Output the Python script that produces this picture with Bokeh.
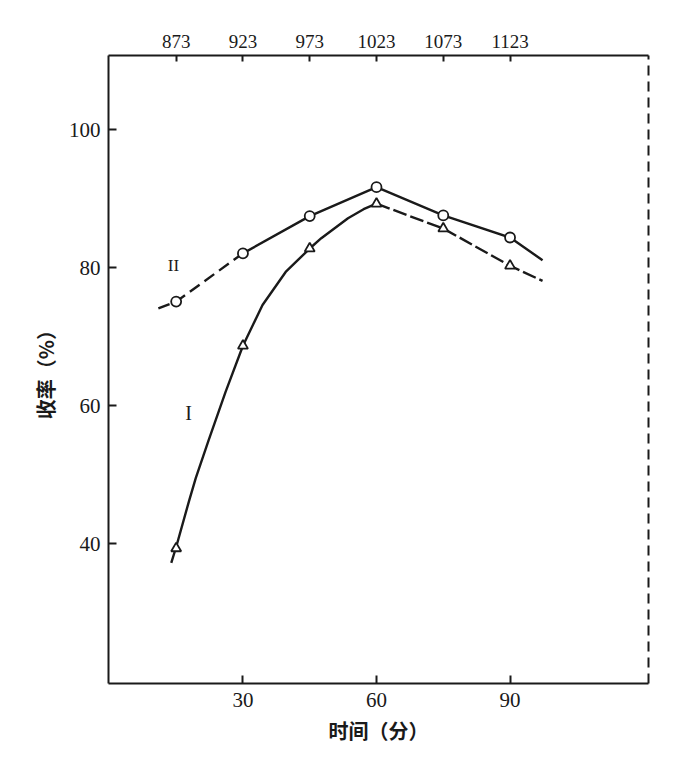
from bokeh.plotting import figure
from bokeh.models import Range1d, LinearAxis, FixedTicker
from bokeh.core.properties import value
from bokeh.embed import file_html
from bokeh.resources import INLINE

# ---- data ----
time_min = [15, 30, 45, 60, 75, 90]                          # 时间 (分)
temp_labels = ["873", "923", "973", "1023", "1073", "1123"]  # top scale
yield_I = [39.3, 68.7, 82.8, 89.3, 85.7, 80.3]               # curve I (triangles)
yield_II = [75.1, 82.1, 87.5, 91.7, 87.6, 84.4]              # curve II (circles)

# traced points along the drawn curves
curve_I_t = [13.9, 15, 17.9, 19.4, 22.3, 26.1, 30, 34.4, 39.6, 45, 47.6, 53.6, 57.1, 60]
curve_I_v = [37.2, 39.5, 46.2, 49.5, 55.0, 62.0, 68.7, 74.6, 79.4, 82.8, 84.3, 87.2, 88.5, 89.3]
curve_I_tail_t = [60, 75, 90, 97.3]
curve_I_tail_v = [89.3, 85.7, 80.3, 78.1]
curve_II_head_t = [11.0, 15, 30]
curve_II_head_v = [74.1, 75.1, 82.1]
curve_II_t = [30, 45, 60, 75, 90, 97.3]
curve_II_v = [82.1, 87.5, 91.7, 87.6, 84.4, 81.1]

y_ticks = [40, 60, 80, 100]
x_ticks = [30, 60, 90]

SERIF = "Liberation Serif"
CJK = "Noto Sans CJK SC"
INK = "#1a1a1a"

p = figure(frame_width=540, frame_height=628,
           min_border_left=108, min_border_top=55,
           min_border_right=36, min_border_bottom=63,
           x_range=Range1d(-0.2, 121.1), y_range=Range1d(19.7, 110.8),
           output_backend="svg", toolbar_location=None,
           x_axis_location=None, y_axis_location=None)
p.xgrid.visible = False
p.ygrid.visible = False
p.outline_line_color = None
p.background_fill_color = "white"
p.border_fill_color = "white"

# left axis
ya = LinearAxis(ticker=FixedTicker(ticks=y_ticks), axis_label="收率（%）")
ya.major_tick_in = 8
ya.major_tick_out = 0
ya.minor_tick_line_color = None
ya.axis_line_width = 2
ya.major_tick_line_width = 2
ya.axis_line_color = INK
ya.major_tick_line_color = INK
ya.major_label_text_font = SERIF
ya.major_label_text_font_size = "21px"
ya.major_label_text_color = INK
ya.major_label_standoff = 8
ya.axis_label_text_font = CJK
ya.axis_label_text_font_size = "20px"
ya.axis_label_text_font_style = "bold"
ya.axis_label_text_color = INK
ya.axis_label_standoff = 6
p.add_layout(ya, "left")

# bottom axis
xa = LinearAxis(ticker=FixedTicker(ticks=x_ticks), axis_label="时间（分）")
xa.major_tick_in = 8
xa.major_tick_out = 0
xa.minor_tick_line_color = None
xa.axis_line_width = 2
xa.major_tick_line_width = 2
xa.axis_line_color = INK
xa.major_tick_line_color = INK
xa.major_label_text_font = SERIF
xa.major_label_text_font_size = "21px"
xa.major_label_text_color = INK
xa.major_label_standoff = 9
xa.axis_label_text_font = CJK
xa.axis_label_text_font_size = "20px"
xa.axis_label_text_font_style = "bold"
xa.axis_label_text_color = INK
xa.axis_label_standoff = 6
p.add_layout(xa, "below")

# top axis with temperatures
ta = LinearAxis(ticker=FixedTicker(ticks=time_min))
ta.major_label_overrides = {t: lab for t, lab in zip(time_min, temp_labels)}
ta.major_tick_in = 6
ta.major_tick_out = 0
ta.minor_tick_line_color = None
ta.axis_line_width = 2
ta.major_tick_line_width = 2
ta.axis_line_color = INK
ta.major_tick_line_color = INK
ta.major_label_text_font = SERIF
ta.major_label_text_font_size = "19px"
ta.major_label_text_color = INK
ta.major_label_standoff = 8
p.add_layout(ta, "above")

# right frame line (dashed)
ra = LinearAxis(ticker=FixedTicker(ticks=[]))
ra.axis_line_dash = "10 6"
ra.axis_line_width = 2
ra.axis_line_color = INK
ra.major_label_text_font_size = "0px"
ra.minor_tick_line_color = None
p.add_layout(ra, "right")

# curves
p.line(curve_I_t, curve_I_v, line_color=INK, line_width=2.4, line_join="round")
p.line(curve_I_tail_t, curve_I_tail_v, line_color=INK, line_width=2.4, line_dash="14 4")
p.line(curve_II_head_t, curve_II_head_v, line_color=INK, line_width=2.4, line_dash="12 6")
p.line(curve_II_t, curve_II_v, line_color=INK, line_width=2.4, line_join="round")

# markers
p.scatter(time_min, yield_I, marker="triangle", size=10, fill_color="white",
          line_color=INK, line_width=1.8)
p.scatter(time_min, yield_II, marker="circle", size=10, fill_color="white",
          line_color=INK, line_width=1.8)

# curve labels
p.text(x=[14.4], y=[80.3], text=["II"], text_font=value(SERIF), text_font_size="17px",
       text_align="center", text_baseline="middle", text_color=INK)
p.text(x=[17.8], y=[58.9], text=["I"], text_font=value(SERIF), text_font_size="20px",
       text_align="center", text_baseline="middle", text_color=INK)

open("out.html", "w").write(file_html(p, INLINE))
